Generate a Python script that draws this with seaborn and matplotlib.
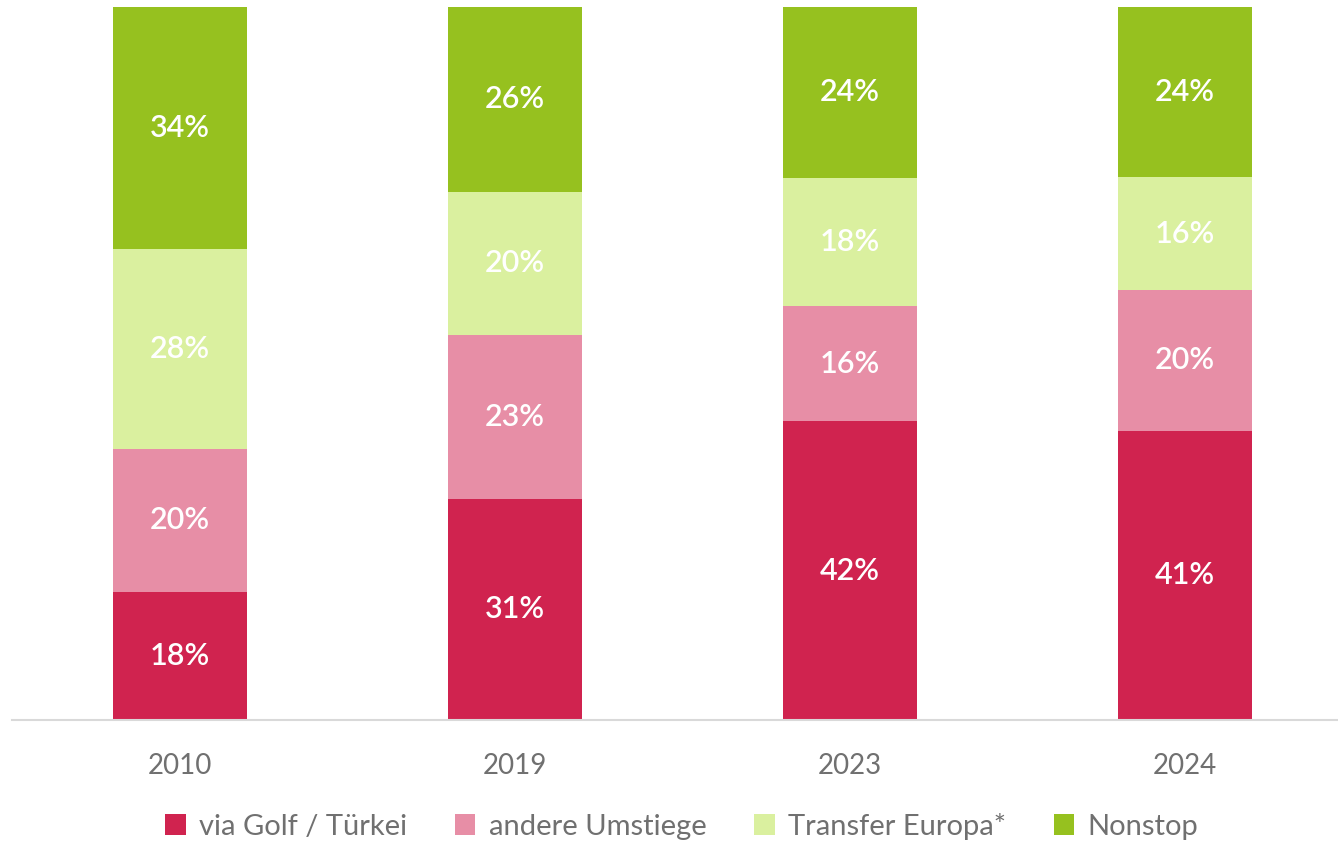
import numpy as np
import pandas as pd
import matplotlib
matplotlib.use("Agg")
import matplotlib.pyplot as plt
import seaborn as sns

years = ["2010", "2019", "2023", "2024"]
series = ["via Golf / Türkei", "andere Umstiege", "Transfer Europa*", "Nonstop"]
# bar heights (share in %)
golf = [17.95, 31.0, 41.9, 40.5]
umstiege = [20.05, 23.0, 16.1, 19.8]
transfer = [28.05, 20.05, 17.95, 15.8]
nonstop = [33.95, 25.95, 24.05, 23.9]
# printed labels
golf_lbl = [18, 31, 42, 41]
umstiege_lbl = [20, 23, 16, 20]
transfer_lbl = [28, 20, 18, 16]
nonstop_lbl = [34, 26, 24, 24]
colors = ["#D0234F", "#E78EA6", "#DAF09F", "#96C11F"]

sns.set_style("white")
plt.rcParams["font.family"] = ["Lato", "DejaVu Sans"]

fig = plt.figure(figsize=(13.38, 8.42), dpi=100)
ax = fig.add_axes([0.0093, 0.145, 1.0015, 0.847])

values = [golf, umstiege, transfer, nonstop]
labels = [golf_lbl, umstiege_lbl, transfer_lbl, nonstop_lbl]
bottom = np.zeros(len(years))
for name, vals, lbls, col in zip(series, values, labels, colors):
    sns.barplot(x=years, y=vals, bottom=bottom, color=col, width=0.4,
                label=name, ax=ax, saturation=1, linewidth=0)
    cont = ax.containers[-1]
    ax.bar_label(cont, labels=[f"{v}%" for v in lbls], label_type="center",
                 color="white", fontsize=22, fontweight="semibold")
    bottom = bottom + np.array(vals)

ax.set_ylim(0, 100)
ax.set_xlim(-0.5, 3.5)
ax.set_yticks([])
ax.set_ylabel("")
for s in ["top", "right", "left"]:
    ax.spines[s].set_visible(False)
ax.spines["bottom"].set_color("#D9D9D9")
ax.spines["bottom"].set_linewidth(1.5)
ax.tick_params(axis="x", length=0, labelsize=20, labelcolor="#707070", pad=24)

ax.legend(loc="center", bbox_to_anchor=(0.4995, -0.149), ncol=4,
          frameon=False, fontsize=21, labelcolor="#707070",
          handlelength=0.7, handleheight=0.7, handletextpad=0.45,
          columnspacing=1.65, borderaxespad=0)

fig.savefig("out.png", dpi=100)
